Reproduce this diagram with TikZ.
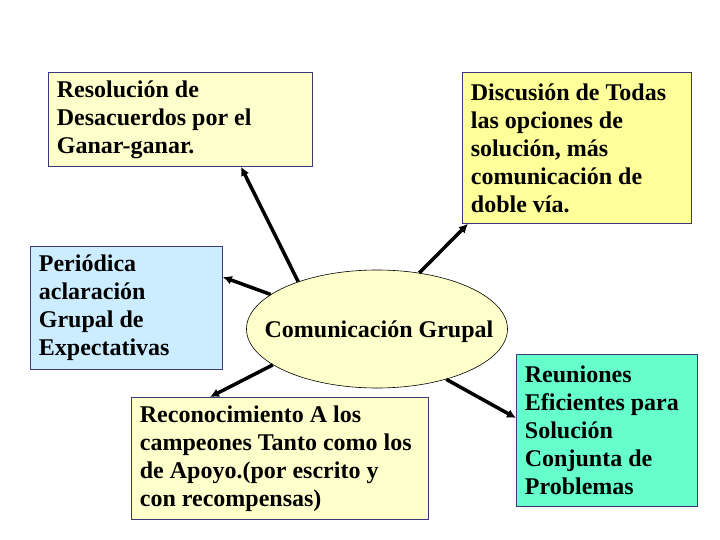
\documentclass[tikz,border=0pt]{standalone}
\usepackage{fontspec}
\setmainfont{Liberation Serif}
\usepackage{tikz}
\usetikzlibrary{shapes.geometric,arrows.meta}

\definecolor{crema}{HTML}{FFFFCC}
\definecolor{amarillo}{HTML}{FFFF99}
\definecolor{celeste}{HTML}{CCECFF}
\definecolor{aguamarina}{HTML}{66FFCC}
\definecolor{borde}{HTML}{3A3A78}

\begin{document}
\begin{tikzpicture}[x=1pt,y=-1pt,
	caja/.style={draw=borde,line width=0.8pt,anchor=north west,align=flush left,
		inner xsep=8.5pt,inner ysep=3pt,font=\fontsize{24}{28}\selectfont\bfseries},
	flecha/.style={line width=3.5pt,-{Latex[length=9pt,width=9pt]}}]
	\useasboundingbox (0,0) rectangle (720,540);

	\node[caja,fill=crema,text width=247pt,minimum height=94pt] (res) at (48,72)
		{Resolución de\\Desacuerdos por el\\Ganar-ganar.};
	\node[caja,fill=amarillo,text width=212pt,minimum height=151pt] (dis) at (462,72)
		{Discusión de Todas\\las opciones de\\solución, más\\comunicación de\\doble vía.};
	\node[caja,fill=celeste,text width=175pt,minimum height=123pt] (per) at (30,246)
		{Periódica\\aclaración\\Grupal de\\Expectativas};
	\node[caja,fill=crema,text width=280pt,minimum height=122pt] (rec) at (131,397)
		{Reconocimiento A los\\campeones Tanto como los\\de Apoyo.(por escrito y\\con recompensas)};
	\node[caja,fill=aguamarina,text width=164pt,minimum height=152pt] (reu) at (516,354)
		{Reuniones\\Eficientes para\\Solución\\Conjunta de\\Problemas};

	\node[shape=ellipse,draw=black,line width=0.6pt,fill=crema,minimum width=261pt,
		minimum height=118pt,inner sep=0pt] (com) at (377,329) {};
	\node[font=\fontsize{24}{28}\selectfont\bfseries] (tit) at (379,332) {Comunicación Grupal};

	\draw[flecha] (com.149) -- ([xshift=193pt]res.south west);
	\draw[flecha] (com.53) -- ([xshift=6pt]dis.south west);
	\draw[flecha] (com.162) -- ([yshift=-31pt]per.north east);
	\draw[flecha] (com.199) -- ([xshift=79pt]rec.north west);
	\draw[flecha] (com.324) -- ([yshift=-64pt]reu.north west);
\end{tikzpicture}
\end{document}
